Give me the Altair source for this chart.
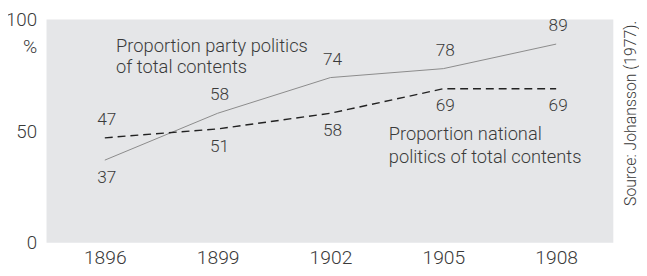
import altair as alt
import pandas as pd

years = [1896, 1899, 1902, 1905, 1908]
party = [37, 58, 74, 78, 89]
national = [47, 51, 58, 69, 69]
y_ticks = [0, 50, 100]
x_ticks = years

party_note = ["Proportion party politics", "of total contents"]
national_note = ["Proportion national", "politics of total contents"]
source = "Source: Johansson (1977)."

rows = []
for yr, p, n in zip(years, party, national):
    rows.append({"year": yr, "series": "party", "value": p, "other": n})
    rows.append({"year": yr, "series": "national", "value": n, "other": p})
df = pd.DataFrame(rows)

notes = pd.DataFrame({
    "year": [1896.3, 1896.3, 1903.55, 1903.55],
    "value": [88.2, 78.5, 48.6, 38.4],
    "text": party_note + national_note,
})

FONT = "Roboto"
W = 300
TXT = "#3a3a3a"

x = alt.X("year:Q", scale=alt.Scale(domain=[1894.45, 1909.52], nice=False, zero=False),
          axis=alt.Axis(values=x_ticks, format="d", title=None, grid=False, domain=False,
                        ticks=False, labelPadding=6, labelFontSize=19.5, labelColor=TXT,
                        labelFont=FONT, labelFontWeight=W))
y = alt.Y("value:Q", scale=alt.Scale(domain=[0, 100], nice=False),
          axis=alt.Axis(values=y_ticks, title="%", titleAngle=0, titleAlign="right",
                        titleBaseline="middle", titleX=-10, titleY=27, titleFontSize=19.5,
                        titleFontWeight=W, titleColor=TXT, titleFont=FONT,
                        grid=False, domain=False, ticks=False, labelPadding=10,
                        labelFontSize=19, labelColor=TXT, labelFont=FONT,
                        labelFontWeight=W, labelBaseline="middle"))

base = alt.Chart(df)

party_line = base.transform_filter(alt.datum.series == "party").mark_line(
    color="#8a8a8a", strokeWidth=1).encode(x=x, y=y)
national_line = base.transform_filter(alt.datum.series == "national").mark_line(
    color="#222222", strokeWidth=1.4, strokeDash=[8, 5]).encode(x=x, y=y)

above = base.transform_filter(alt.datum.value > alt.datum.other).mark_text(
    dy=-18, dx=2, fontSize=17.5, font=FONT, fontWeight=W, color=TXT).encode(
    x=x, y=y, text="value:Q")
below = base.transform_filter(alt.datum.value < alt.datum.other).mark_text(
    dy=18, dx=2, fontSize=17.5, font=FONT, fontWeight=W, color=TXT).encode(
    x=x, y=y, text="value:Q")

note_text = alt.Chart(notes).mark_text(
    align="left", baseline="middle", fontSize=18.5, font=FONT, fontWeight=W,
    color=TXT).encode(x=x, y=y, text="text:N")

src = alt.Chart(pd.DataFrame({"text": [source]})).mark_text(
    angle=270, align="center", baseline="middle", fontSize=16, font=FONT,
    fontWeight=W, color=TXT).encode(x=alt.value(592), y=alt.value(95), text="text:N")

chart = alt.layer(party_line, national_line, above, below, note_text, src).properties(
    width=574, height=226,
    autosize=alt.AutoSizeParams(type="none"),
    padding={"left": 39, "top": 10, "right": 26, "bottom": 30},
    background="white",
).configure_view(fill="#e5e6e8", stroke=None)

chart.save("out.html", embed_options={"renderer": "svg", "actions": False})
